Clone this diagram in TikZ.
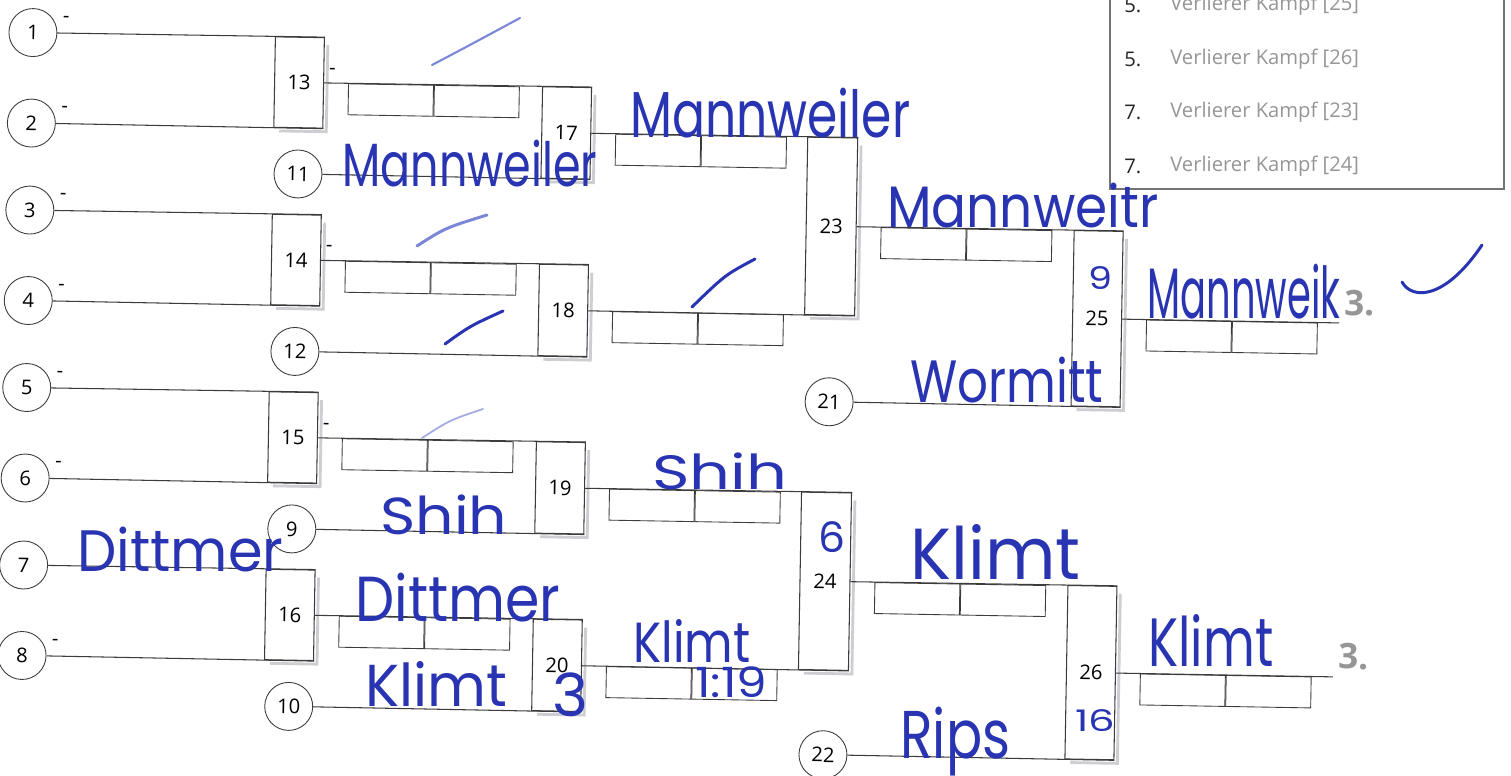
\documentclass[tikz,border=0pt]{standalone}
\usepackage{fontspec}
\usepackage{graphicx}
\setmainfont{Open Sans}
\newfontfamily\handfont{Poppins}
\usetikzlibrary{positioning,calc}

\definecolor{rule}{RGB}{60,60,60}
\definecolor{shadegray}{RGB}{205,205,210}
\definecolor{ink}{RGB}{40,52,178}
\definecolor{inkpale}{RGB}{125,135,215}
\definecolor{printgray}{RGB}{150,150,150}

\newcommand{\inkword}[3]{\resizebox*{#1}{#2}{\handfont #3}}

\tikzset{
  seed/.style={circle, draw=rule, line width=0.5pt, minimum size=0.96cm,
    inner sep=0pt, font=\fontsize{11.5}{13}\selectfont},
  fight/.style={rectangle, draw=rule, line width=0.6pt, minimum width=0.98cm,
    inner sep=0pt, font=\fontsize{11.5}{13}\selectfont},
  firstround/.style={fight, minimum height=1.81cm},
  secondround/.style={fight, minimum height=1.83cm},
  cell/.style={rectangle, draw=rule, line width=0.5pt, minimum width=1.7cm,
    minimum height=0.62cm, inner sep=0pt},
  wire/.style={draw=rule, line width=0.6pt},
  boxshadow/.style={draw=shadegray, line width=1.6pt},
  dashmark/.style={inner sep=0pt, font=\fontsize{11.5}{13}\selectfont},
  place/.style={inner sep=0pt, text=printgray, font=\bfseries\fontsize{20}{22}\selectfont},
  legnum/.style={anchor=west, inner sep=0pt, text=black!85, font=\fontsize{11.5}{13}\selectfont},
  legtext/.style={anchor=west, inner sep=0pt, text=printgray, font=\fontsize{11.5}{13}\selectfont},
  hand/.style={anchor=south west, inner sep=0pt, text=ink},
  pen/.style={draw=ink, line width=1.7pt, line cap=round},
}

\begin{document}
\begin{tikzpicture}[x=0.02cm, y=-0.02cm]
\useasboundingbox (0,0) rectangle (1511,776);
\clip (0,0) rectangle (1511,776);
\fill[white] (0,0) rectangle (1511,776);

% printed bracket (sheet lies askew on the scanner)
\begin{scope}[rotate=-1, transform shape]
  % seeds
  \node[seed] (s1) at (33.5,32) {1};
  \node[seed] (s2) at (33.5,122.5) {2};
  \node[seed] (s3) at (33.5,209.5) {3};
  \node[seed] (s4) at (33.5,300) {4};
  \node[seed] (s5) at (33.5,387) {5};
  \node[seed] (s6) at (33.5,477.5) {6};
  \node[seed] (s7) at (33.5,564.5) {7};
  \node[seed] (s8) at (33.5,655) {8};
  \node[seed] (s11) at (301,168.75) {11};
  \node[seed] (s12) at (301,346.25) {12};
  \node[seed] (s9) at (301,523.75) {9};
  \node[seed] (s10) at (301,701.25) {10};
  \node[seed] (s21) at (836,387.25) {21};
  \node[seed] (s22) at (836,740.25) {22};

  % fights
  \node[firstround] (m13) at (300.5,77.25) {13};
  \node[firstround] (m14) at (300.5,254.75) {14};
  \node[firstround] (m15) at (300.5,432.25) {15};
  \node[firstround] (m16) at (300.5,609.75) {16};
  \node[secondround] (m17) at (568.5,123) {17};
  \node[secondround] (m18) at (568.5,300.5) {18};
  \node[secondround] (m19) at (568.5,478) {19};
  \node[secondround] (m20) at (568.5,655.5) {20};
  \node[fight, minimum width=1cm, minimum height=3.55cm] (m23) at (835,211.75) {23};
  \node[fight, minimum width=1cm, minimum height=3.55cm] (m24) at (835,566.75) {24};
  \node[fight, minimum height=3.51cm] (m25) at (1102.5,299.5) {25};
  \node[fight, minimum height=3.47cm] (m26) at (1102.5,653.5) {26};

  % score cells
  \foreach \b in {13,14,15,16,17,18,19,20,23,24,25,26} {
    \node[cell, anchor=north west] (c\b a) at ($(m\b.east)+(24,0)$) {};
    \node[cell, right=0pt of c\b a] (c\b b) {};
    \draw[boxshadow] ($(m\b.north east)+(3,8)$) -- ($(m\b.south east)+(3,3)$)
      -- ($(m\b.south west)+(6,3)$);
  }

  % connectors
  \draw[wire] (s1.east) -- (m13.north east);
  \draw[wire] (s2.east) -- (m13.south east);
  \draw[wire] (s3.east) -- (m14.north east);
  \draw[wire] (s4.east) -- (m14.south east);
  \draw[wire] (s5.east) -- (m15.north east);
  \draw[wire] (s6.east) -- (m15.south east);
  \draw[wire] (s7.east) -- (m16.north east);
  \draw[wire] (s8.east) -- (m16.south east);
  \draw[wire] (m13.east) -- (m17.north east);
  \draw[wire] (s11.east) -- (m17.south east);
  \draw[wire] (m14.east) -- (m18.north east);
  \draw[wire] (s12.east) -- (m18.south east);
  \draw[wire] (m15.east) -- (m19.north east);
  \draw[wire] (s9.east) -- (m19.south east);
  \draw[wire] (m16.east) -- (m20.north east);
  \draw[wire] (s10.east) -- (m20.south east);
  \draw[wire] (m17.east) -- (m23.north east);
  \draw[wire] (m18.east) -- (m23.south east);
  \draw[wire] (m19.east) -- (m24.north east);
  \draw[wire] (m20.east) -- (m24.south east);
  \draw[wire] (m23.east) -- (m25.north east);
  \draw[wire] (s21.east) -- (m25.south east);
  \draw[wire] (m24.east) -- (m26.north east);
  \draw[wire] (s22.east) -- (m26.south east);
  \draw[wire] (m25.east) -- ++(217,0) coordinate (fin25);
  \draw[wire] (m26.east) -- ++(217,0) coordinate (fin26);

  % empty-name marks
  \foreach \s in {1,2,3,4,5,6,8}
    \node[dashmark] (d\s) at ($(s\s)+(33,-14)$) {-};
  \foreach \b in {13,14,15}
    \node[dashmark] (d\b) at ($(m\b.east)+(8,-12)$) {-};

  % places
  \node[place, anchor=base west] (p25) at ($(fin25)+(5,-8)$) {3.};
  \node[place, anchor=base west] (p26) at ($(fin26)+(5,-8)$) {3.};
\end{scope}

% legend
\draw[draw=black!55, line width=0.6pt, fill=white] (1110,-20) rectangle (1504,189);
\foreach \y/\r/\k in {5/5/25, 59/5/26, 112/7/23, 166/7/24} {
  \node[legnum] (n\k) at (1124,\y) {\r.};
  \node[legtext] (t\k) at (1170,\y) {Verlierer Kampf [\k]};
}

% handwriting
\node[hand] (w11) at (342,187) {\inkword{5.1cm}{0.94cm}{Mannweiler}};
\node[hand] (w17) at (630,138) {\inkword{5.6cm}{1cm}{Mannweiler}};
\node[hand] (w23) at (887,228) {\inkword{5.42cm}{0.9cm}{Mannweitr}};
\node[hand] (w25) at (1147,319) {\inkword{3.86cm}{1.1cm}{Mannweik}};
\node[hand] (w25n) at (1088,290) {\inkword{0.48cm}{0.46cm}{9}};
\node[hand] (w21) at (910,403) {\inkword{3.86cm}{0.92cm}{Wormitt}};
\node[hand] (w19) at (652,490) {\inkword{2.7cm}{0.74cm}{Shih}};
\node[hand] (w9) at (380,535) {\inkword{2.54cm}{0.8cm}{Shih}};
\node[hand] (w7) at (77,572) {\inkword{4.12cm}{0.9cm}{Dittmer}};
\node[hand] (w16) at (355,622) {\inkword{4.1cm}{0.98cm}{Dittmer}};
\node[hand] (w10) at (365,707) {\inkword{2.84cm}{0.9cm}{Klimt}};
\node[hand] (w20n) at (552,717) {\inkword{0.72cm}{0.88cm}{3}};
\node[hand] (w20) at (633,663) {\inkword{2.34cm}{0.86cm}{Klimt}};
\node[hand] (w20s) at (695,698) {\inkword{1.44cm}{0.62cm}{1:19}};
\node[hand] (w24n) at (818,553) {\inkword{0.54cm}{0.62cm}{6}};
\node[hand] (w24) at (910,580) {\inkword{3.4cm}{1.1cm}{Klimt}};
\node[hand] (w26n) at (1075,732) {\inkword{0.8cm}{0.44cm}{16}};
\node[hand] (w22) at (900,776) {\inkword{2.2cm}{1.38cm}{Rips}};
\node[hand] (w26) at (1148,667) {\inkword{2.5cm}{1.04cm}{Klimt}};

% ticks
\draw[pen, draw=inkpale, line width=1.2pt] (432,65) .. controls (470,45) .. (520,18);
\draw[pen, draw=inkpale] (417,246) .. controls (445,228) .. (487,215);
\draw[pen] (445,344) .. controls (470,326) .. (503,311);
\draw[pen, draw=inkpale!70, line width=1pt] (422,438) .. controls (450,420) .. (483,409);
\draw[pen] (692,307) .. controls (725,275) .. (755,259);
\draw[pen] (1402,282) .. controls (1412,300) and (1445,300) .. (1482,245);
\end{tikzpicture}
\end{document}
